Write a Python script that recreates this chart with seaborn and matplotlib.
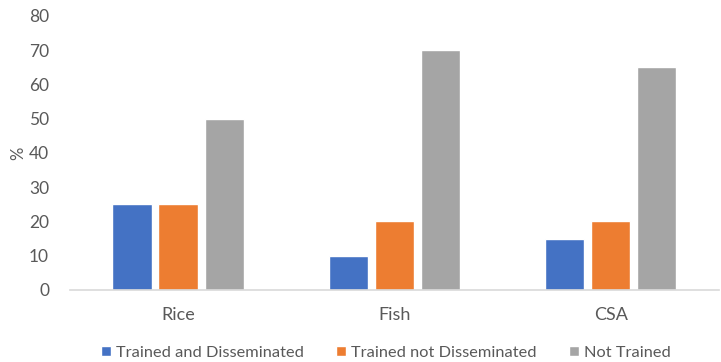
import pandas as pd
import matplotlib.pyplot as plt
import seaborn as sns
from matplotlib.patches import Patch

categories = ['Rice', 'Fish', 'CSA']
groups = ['Trained and Disseminated', 'Trained not Disseminated', 'Not Trained']
trained_dissem = [25, 10, 15]
trained_not_dissem = [25, 20, 20]
not_trained = [50, 70, 65]
colors = ['#4472C4', '#ED7D31', '#A5A5A5']

df = pd.DataFrame({
    'Category': categories * 3,
    'Group': [groups[0]] * 3 + [groups[1]] * 3 + [groups[2]] * 3,
    'Value': trained_dissem + trained_not_dissem + not_trained,
})

sns.set_theme(style='white')
plt.rcParams['font.family'] = ['Lato', 'DejaVu Sans']

fig = plt.figure(figsize=(7.21, 3.62), dpi=100)
ax = fig.add_axes([0.097, 0.199, 0.9, 0.757])

sns.barplot(data=df, x='Category', y='Value', hue='Group', hue_order=groups,
            palette=colors, width=0.64, gap=0.15, saturation=1, legend=False, ax=ax)

ax.set_xlim(-0.5, 2.5)
ax.set_ylim(0, 80)
ax.set_yticks(range(0, 81, 10))
ax.set_xlabel('')
ax.set_ylabel('')
fig.text(18 / 721, 1 - 153 / 362, '%', rotation=90, ha='center', va='center',
         fontsize=12, color='#595959')
ax.tick_params(axis='y', labelsize=12.5, colors='#595959', length=0, pad=15)
ax.tick_params(axis='x', labelsize=13, colors='#595959', length=0, pad=12)
for s in ['top', 'right', 'left']:
    ax.spines[s].set_visible(False)
ax.spines['bottom'].set_color('#D9D9D9')
ax.spines['bottom'].set_linewidth(1.2)

handles = [Patch(facecolor=c, label=g) for c, g in zip(colors, groups)]
fig.legend(handles=handles, loc='lower center', bbox_to_anchor=(0.535, -0.035), ncol=3,
           frameon=False, fontsize=11.8, handlelength=0.6, handleheight=0.6,
           handletextpad=0.3, columnspacing=2.0, labelcolor='#595959')

fig.savefig('out.png', dpi=100)
